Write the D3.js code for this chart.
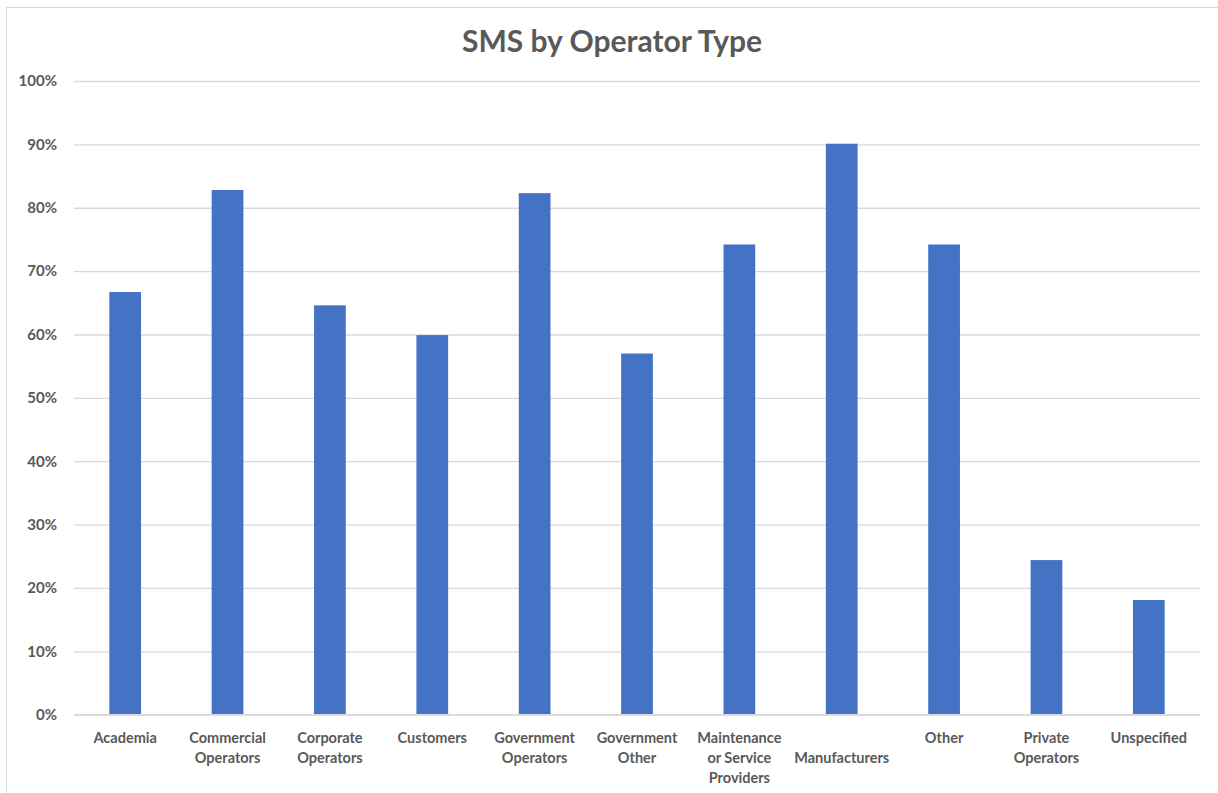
<!DOCTYPE html>
<html>
<head>
<meta charset="utf-8">
<script src="https://cdn.jsdelivr.net/npm/d3@7"></script>
<style>
  body { margin: 0; background: #fff; }
  text { font-family: Lato, "Open Sans", sans-serif; }
</style>
</head>
<body>
<div id="chart"></div>
<script>
// Data
var categories = ["Academia", "Commercial Operators", "Corporate Operators", "Customers",
    "Government Operators", "Government Other", "Maintenance or Service Providers",
    "Manufacturers", "Other", "Private Operators", "Unspecified"];
// label lines as they wrap in the picture
var labelLines = [["Academia"], ["Commercial", "Operators"], ["Corporate", "Operators"], ["Customers"],
    ["Government", "Operators"], ["Government", "Other"], ["Maintenance", "or Service", "Providers"],
    ["", "Manufacturers"], ["Other"], ["Private", "Operators"], ["Unspecified"]];
var values = [0.667, 0.828, 0.646, 0.599, 0.823, 0.570, 0.742, 0.901, 0.742, 0.244, 0.181];
var yTicks = [0, 0.1, 0.2, 0.3, 0.4, 0.5, 0.6, 0.7, 0.8, 0.9, 1.0];

function init() {
    var w = 1218, h = 793;
    var left = 74, right = 1200, top = 81, bottom = 714.7;
    var textColor = "#595959";

    var svg = d3.select("#chart").append("svg")
        .attr("width", w)
        .attr("height", h);

    // chart border
    svg.append("rect")
        .attr("x", 6.5).attr("y", 7.5)
        .attr("width", w + 20).attr("height", h + 20)
        .attr("fill", "none")
        .attr("stroke", "#d9d9d9")
        .attr("stroke-width", 1);

    var xScale = d3.scaleBand()
        .domain(categories)
        .range([left, right])
        .paddingInner(0.69)
        .paddingOuter(0.345);

    var yScale = d3.scaleLinear()
        .domain([0, 1])
        .range([bottom, top]);

    // gridlines
    var yAxis = d3.axisLeft(yScale)
        .tickValues(yTicks)
        .tickSize(-(right - left))
        .tickPadding(17)
        .tickFormat(d3.format(".0%"));

    var gy = svg.append("g")
        .attr("transform", "translate(" + left + ",0)")
        .call(yAxis);
    gy.select(".domain").remove();
    gy.selectAll(".tick line")
        .attr("stroke", "#d9d9d9")
        .attr("stroke-width", 1.3);
    gy.selectAll(".tick text")
        .attr("fill", textColor)
        .attr("font-size", "15px")
        .attr("font-weight", "bold")
        .attr("font-family", "Lato, sans-serif");

    // bars
    svg.selectAll("rect.bar")
        .data(values)
        .enter()
        .append("rect")
        .attr("class", "bar")
        .attr("x", function(d, i) { return xScale(categories[i]); })
        .attr("y", function(d) { return yScale(d); })
        .attr("width", xScale.bandwidth())
        .attr("height", function(d) { return bottom - yScale(d); })
        .attr("fill", "#4472c4");

    // x axis line
    svg.append("line")
        .attr("x1", left).attr("x2", right)
        .attr("y1", bottom).attr("y2", bottom)
        .attr("stroke", "#d9d9d9")
        .attr("stroke-width", 1.5);

    // category labels
    var xAxis = d3.axisBottom(xScale).tickSize(0).tickFormat("");
    var gx = svg.append("g")
        .attr("transform", "translate(0," + bottom + ")")
        .call(xAxis);
    gx.select(".domain").remove();
    gx.selectAll(".tick").each(function(d, i) {
        var t = d3.select(this).append("text")
            .attr("fill", textColor)
            .attr("font-size", "14.5px")
            .attr("font-weight", "bold")
            .attr("text-anchor", "middle")
            .attr("font-family", "Lato, sans-serif");
        labelLines[i].forEach(function(line, j) {
            t.append("tspan")
                .attr("x", 0)
                .attr("y", 28 + j * 20)
                .text(line);
        });
    });

    // title
    svg.append("text")
        .attr("x", 612)
        .attr("y", 52)
        .attr("text-anchor", "middle")
        .attr("fill", textColor)
        .attr("font-size", "30px")
        .attr("font-weight", "bold")
        .text("SMS by Operator Type");
}

window.onload = init;
</script>
</body>
</html>
